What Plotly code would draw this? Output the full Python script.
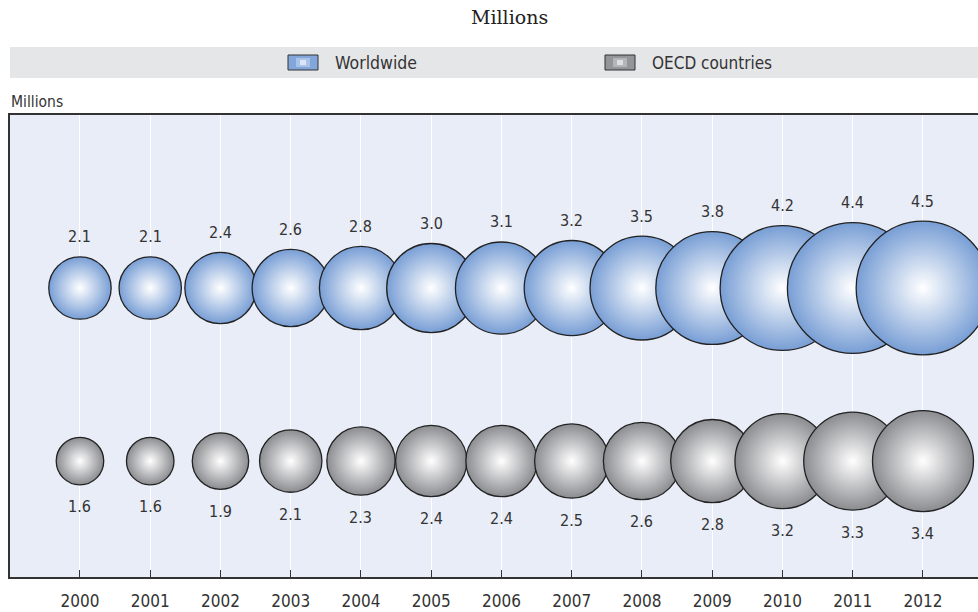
import plotly.graph_objects as go

years = [2000, 2001, 2002, 2003, 2004, 2005, 2006, 2007, 2008, 2009, 2010, 2011, 2012]
worldwide = [2.1, 2.1, 2.4, 2.6, 2.8, 3.0, 3.1, 3.2, 3.5, 3.8, 4.2, 4.4, 4.5]
oecd = [1.6, 1.6, 1.9, 2.1, 2.3, 2.4, 2.4, 2.5, 2.6, 2.8, 3.2, 3.3, 3.4]
series_names = ["Worldwide", "OECD countries"]
row_pos = [1, 0]

W, H = 978, 612
L, R, T, B = 10, 0, 115, 35
PW, PH = W - L - R, H - T - B

def px(x):
    return (x - L) / PW

def py(y):
    return (H - B - y) / PH

FONT = "Liberation Sans Narrow, Arial Narrow, DejaVu Sans Condensed, sans-serif"
SCALE = 29.7

fig = go.Figure()
annotations = []
styles = [("#789ed5", 1, 20), ("#8b8c90", -1, 22)]
for name, vals, yp, (col, side, gap) in zip(series_names, [worldwide, oecd], row_pos, styles):
    fig.add_trace(go.Scatter(
        x=years, y=[yp] * len(years), mode="markers", name=name,
        marker=dict(size=[v * SCALE for v in vals], sizemode="diameter", color=col,
                    gradient=dict(type="radial", color="#ffffff"),
                    line=dict(color="#222222", width=1.3), opacity=1),
        showlegend=False, cliponaxis=False, hoverinfo="skip"))
    for x, v in zip(years, vals):
        annotations.append(dict(
            x=x, y=yp, xref="x", yref="y", text=f"{v:.1f}", showarrow=False,
            xanchor="center", yanchor="middle", yshift=side * (v * SCALE / 2 + gap),
            font=dict(family=FONT, size=16, color="#333333")))

shapes = [
    dict(type="rect", xref="paper", yref="paper", x0=px(10), x1=px(978), y0=py(78), y1=py(47),
         fillcolor="#e5e6e8", line=dict(width=0), layer="below"),
    dict(type="rect", xref="paper", yref="paper", x0=px(288), x1=px(318), y0=py(70), y1=py(55),
         fillcolor="#82a6da", line=dict(color="#333333", width=1)),
    dict(type="rect", xref="paper", yref="paper", x0=px(296), x1=px(310), y0=py(67), y1=py(58),
         fillcolor="#a9c2e8", line=dict(width=0)),
    dict(type="rect", xref="paper", yref="paper", x0=px(300), x1=px(306), y0=py(65), y1=py(60),
         fillcolor="#dbe6f6", line=dict(width=0)),
    dict(type="rect", xref="paper", yref="paper", x0=px(605), x1=px(635), y0=py(70), y1=py(55),
         fillcolor="#949598", line=dict(color="#333333", width=1)),
    dict(type="rect", xref="paper", yref="paper", x0=px(613), x1=px(627), y0=py(67), y1=py(58),
         fillcolor="#b4b5b8", line=dict(width=0)),
    dict(type="rect", xref="paper", yref="paper", x0=px(617), x1=px(623), y0=py(65), y1=py(60),
         fillcolor="#dedfe1", line=dict(width=0)),
]

annotations += [
    dict(text="Millions", xref="paper", yref="paper", x=px(510), y=py(17), showarrow=False,
         xanchor="center", yanchor="middle", font=dict(family="DejaVu Serif, serif", size=19, color="#222222")),
    dict(text=series_names[0], xref="paper", yref="paper", x=px(333), y=py(63), showarrow=False,
         xanchor="left", yanchor="middle", font=dict(family=FONT, size=17.5, color="#333333")),
    dict(text=series_names[1], xref="paper", yref="paper", x=px(650), y=py(63), showarrow=False,
         xanchor="left", yanchor="middle", font=dict(family=FONT, size=17, color="#333333")),
    dict(text="Millions", xref="paper", yref="paper", x=px(9), y=py(102), showarrow=False,
         xanchor="left", yanchor="middle", font=dict(family=FONT, size=15.5, color="#333333")),
]

fig.update_layout(
    width=W, height=H, margin=dict(l=L, r=R, t=T, b=B, pad=0),
    paper_bgcolor="white", plot_bgcolor="#e9edf7",
    shapes=shapes, annotations=annotations, showlegend=False,
    xaxis=dict(range=[1999.004, 2012.783], tickmode="array", tickvals=years,
               ticktext=[str(y) for y in years], showgrid=True, gridcolor="white", gridwidth=1,
               zeroline=False, showline=True, linecolor="#333333", linewidth=2, mirror=True,
               ticks="inside", ticklen=7, tickcolor="#333333", tickwidth=1,
               ticklabelstandoff=8,
               tickfont=dict(family=FONT, size=17, color="#333333")),
    yaxis=dict(range=[-0.670, 2.0], showgrid=False, zeroline=False, showticklabels=False,
               showline=True, linecolor="#333333", linewidth=2, ticks=""),
)

fig.write_html("out.html")
